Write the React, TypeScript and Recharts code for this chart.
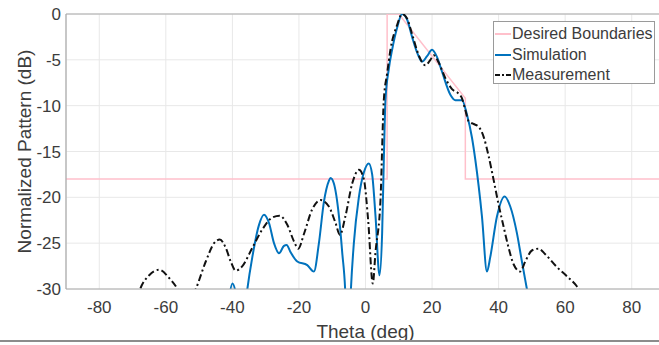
import { LineChart, Line, XAxis, YAxis, CartesianGrid, ReferenceLine } from 'recharts'

// ---------------------------------------------------------------------------
// Pattern data (theta in degrees, normalized level in dB)
// ---------------------------------------------------------------------------

const thetaTicks = [-80, -60, -40, -20, 0, 20, 40, 60, 80]
const dbTicks = [-30, -25, -20, -15, -10, -5, 0]

// Mask for the shaped beam
const boundaryTheta = [-90, 6.5, 6.5, 10, 30, 30, 90]
const boundaryDb = [-18, -18, 0, 0, -9.2, -18, -18]

const simulationTheta = [
  -41, -40, -39, -38, -36.5, -35.5, -34, -32, -30.5, -29, -27.5, -26, -24.5, -23.7, -22.5,
  -20.5, -17.5, -15.5, -14, -12.5, -11, -10.5, -9.5, -8, -7, -6, -5.3, -4.5, -3.5, -2, -0.5,
  1, 2, 3, 4.2, 5, 5.5, 6, 7, 8, 9.5, 11, 12.5, 14, 15.5, 17, 18.5, 20, 21.5, 23, 25.5, 27,
  29, 30.5, 32, 33, 35, 36.5, 37.5, 39.5, 41.8, 43.5, 45.5, 47, 48.5, 49.5,
]
const simulationDb = [
  -31, -29.4, -30.5, -35, -33, -30, -26.5, -23, -21.9, -22.8, -25, -26.1, -25.3, -25.2, -26,
  -27, -27.4, -28.1, -25, -20.5, -18.2, -17.9, -18.5, -22, -26, -31, -40, -31, -25, -20, -17.3,
  -16.3, -17.5, -22, -28.5, -23.9, -16, -9.4, -6, -3.9, -1.5, 0, -0.6, -2.5, -4.2, -5.2, -4.6,
  -3.9, -4.7, -6.3, -8.8, -9.4, -9.4, -11, -13.5, -15.9, -22.1, -28.1, -26.5, -22.1, -19.9,
  -21, -23.9, -27, -30, -32,
]

const measurementTheta = [
  -69, -67.7, -65, -62, -59, -56.5, -54, -51, -48, -45.5, -43.8, -42, -40.5, -39, -37, -34, -31,
  -28, -25.8, -23.5, -21.5, -20.2, -18.5, -16, -13.5, -11, -9, -7.7, -6, -4, -2, -0.5, 0.8, 2.2,
  3, 4.5, 5.5, 6.5, 7.5, 9.5, 11, 12.5, 14, 16, 18, 19.5, 20.5, 22, 24, 26, 28, 29, 30, 31, 32.5,
  34, 35.5, 37, 38.5, 40, 41.5, 43, 44.5, 46.5, 48, 50, 52, 54, 57.5, 60.5, 63.5, 65,
]
const measurementDb = [
  -31.5, -30, -28.5, -27.9, -28.8, -30, -32, -30, -27, -25, -24.6, -25.5, -27, -28, -27.5, -25.5,
  -23.5, -22.2, -22, -23, -24.8, -25.6, -24, -21.3, -20.3, -21, -22.8, -24.1, -22, -18.5, -17,
  -18, -22.5, -29.4, -26, -20.3, -9.4, -6.5, -3.9, -1.2, 0, -0.5, -2.2, -4.5, -5.6, -5, -4.5,
  -5.3, -7, -8.2, -8.7, -9.2, -10.5, -11.7, -12, -12.3, -13.4, -15.5, -18.1, -20.8, -23.2, -25.5,
  -27.3, -28.1, -27, -25.8, -25.6, -26.2, -27.6, -28.6, -29.7, -30.5,
]

const zip = (theta: number[], db: number[]) => theta.map((t, i) => ({ theta: t, db: db[i] }))

const boundaryData = zip(boundaryTheta, boundaryDb)
const simulationData = zip(simulationTheta, simulationDb)
const measurementData = zip(measurementTheta, measurementDb)

// ---------------------------------------------------------------------------
// Styling
// ---------------------------------------------------------------------------

const FONT = '"Liberation Sans", Arial, Helvetica, sans-serif'
const TEXT = '#3c3c3c'
const FRAME = '#a9a9a9'
const GRID = '#e8e8e8'
const PINK = '#ffc0cb'
const BLUE = '#0072bd'
const BLACK = '#111111'
const DASH_DOT = '7 3 2 3'

const legendItems = [
  { name: 'Desired Boundaries', color: PINK, dash: undefined },
  { name: 'Simulation', color: BLUE, dash: undefined },
  { name: 'Measurement', color: BLACK, dash: DASH_DOT },
]

function YLabel({ viewBox }: any) {
  const cx = viewBox.x + 31
  const cy = viewBox.y + viewBox.height / 2
  return (
    <text
      x={cx}
      y={cy}
      transform={`rotate(-90 ${cx} ${cy})`}
      textAnchor="middle"
      fontSize={19}
      fontFamily={FONT}
      fill={TEXT}
    >
      Normalized Pattern (dB)
    </text>
  )
}

function PatternLegend() {
  return (
    <div
      style={{
        position: 'absolute',
        left: 493,
        top: 21,
        width: 162,
        height: 63,
        boxSizing: 'border-box',
        border: '1px solid #9a9a9a',
        background: '#fff',
        fontFamily: FONT,
        fontSize: 16,
        color: TEXT,
        paddingTop: 2,
      }}
    >
      {legendItems.map((it) => (
        <div key={it.name} style={{ display: 'flex', alignItems: 'center', height: 20.5 }}>
          <svg width={18} height={10} style={{ flex: 'none' }}>
            <line
              x1={1}
              x2={17}
              y1={5}
              y2={5}
              stroke={it.color}
              strokeWidth={2}
              strokeDasharray={it.dash ? '5 2 2 2' : undefined}
            />
          </svg>
          <span style={{ whiteSpace: 'nowrap' }}>{it.name}</span>
        </div>
      ))}
    </div>
  )
}

export default function App() {
  return (
    <div
      style={{
        position: 'fixed',
        left: 0,
        top: 0,
        width: 659,
        height: 345,
        overflow: 'hidden',
        background: '#fff',
      }}
    >
      <LineChart width={680} height={345} margin={{ top: 14, right: 15, bottom: 0, left: 0 }}>
        <CartesianGrid stroke={GRID} strokeWidth={1} />
        <XAxis
          type="number"
          dataKey="theta"
          domain={[-90, 90]}
          ticks={thetaTicks}
          allowDataOverflow
          height={56}
          tickSize={0}
          tickMargin={12}
          axisLine={{ stroke: FRAME, strokeWidth: 1.2 }}
          tick={{ fontSize: 17, fill: TEXT, fontFamily: FONT }}
          label={{
            value: 'Theta (deg)',
            position: 'insideBottom',
            offset: 7,
            fontSize: 19,
            fill: TEXT,
            fontFamily: FONT,
          }}
        />
        <YAxis
          type="number"
          dataKey="db"
          domain={[-30, 0]}
          ticks={dbTicks}
          allowDataOverflow
          width={66}
          tickSize={0}
          tickMargin={5}
          axisLine={{ stroke: FRAME, strokeWidth: 1.2 }}
          tick={{ fontSize: 17, fill: TEXT, fontFamily: FONT }}
          label={<YLabel />}
        />
        <ReferenceLine y={0} stroke={FRAME} strokeWidth={1.2} />
        <Line
          data={boundaryData}
          dataKey="db"
          type="linear"
          stroke={PINK}
          strokeWidth={1.5}
          dot={false}
          isAnimationActive={false}
        />
        <Line
          data={simulationData}
          dataKey="db"
          type="monotone"
          stroke={BLUE}
          strokeWidth={2}
          dot={false}
          isAnimationActive={false}
        />
        <Line
          data={measurementData}
          dataKey="db"
          type="monotone"
          stroke={BLACK}
          strokeWidth={2}
          strokeDasharray={DASH_DOT}
          dot={false}
          isAnimationActive={false}
        />
      </LineChart>
      <PatternLegend />
      <div
        style={{ position: 'absolute', left: 0, top: 340, width: 659, height: 2, background: '#8c8c8c' }}
      />
    </div>
  )
}
